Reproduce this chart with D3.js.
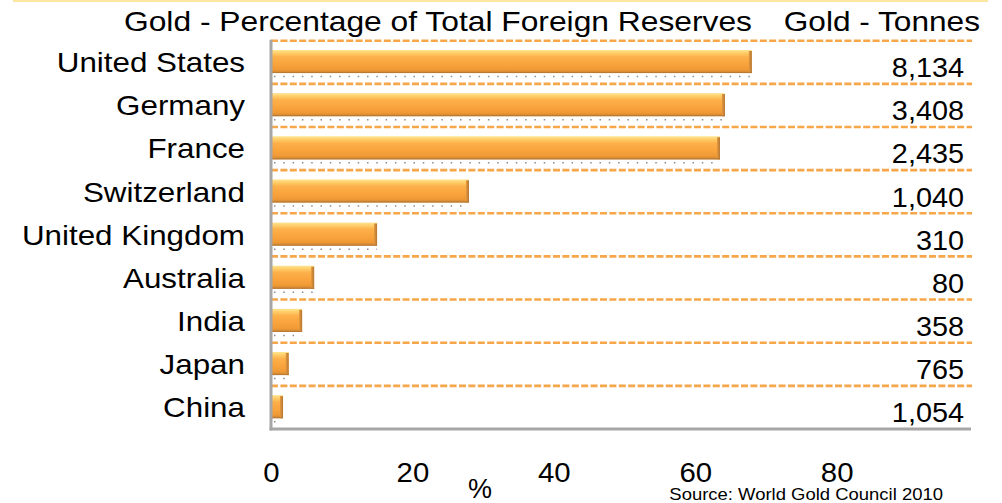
<!DOCTYPE html>
<html>
<head>
<meta charset="utf-8">
<script src="https://cdn.jsdelivr.net/npm/d3@7"></script>
<style>
  html, body { margin: 0; padding: 0; background: #fff; }
  svg { display: block; }
  text { font-family: "Liberation Sans", Arial, sans-serif; fill: #000; }
</style>
</head>
<body>
<svg id="chart" width="1002" height="503"></svg>
<script>
// ---- data ----
const countries = ["United States", "Germany", "France", "Switzerland", "United Kingdom", "Australia", "India", "Japan", "China"];
const goldPercent = [68.0, 64.2, 63.5, 28.0, 15.0, 6.1, 4.4, 2.5, 1.7];
const goldTonnes = ["8,134", "3,408", "2,435", "1,040", "310", "80", "358", "765", "1,054"];
const tickValues = [0, 20, 40, 60, 80];
const titleLeft = "Gold - Percentage of Total Foreign Reserves";
const titleRight = "Gold - Tonnes";
const axisLabel = "%";
const sourceNote = "Source: World Gold Council 2010";

// ---- layout ----
const svg = d3.select("#chart");
const plot = { left: 271, right: 971, top: 40.7, bottom: 429 };

const x = d3.scaleLinear().domain([0, 99]).range([plot.left, plot.right]);
const y = d3.scaleBand().domain(countries).range([plot.top, plot.bottom]).padding(0);

const defs = svg.append("defs");
const grad = defs.append("linearGradient").attr("id", "barGrad")
  .attr("x1", 0).attr("y1", 0).attr("x2", 0).attr("y2", 1);
[["0%", "#ffe493"], ["12%", "#ffd06c"], ["30%", "#fdb04a"], ["60%", "#f9a43d"], ["85%", "#f09a36"], ["100%", "#c98232"]]
  .forEach(([o, c]) => grad.append("stop").attr("offset", o).attr("stop-color", c));
const gradR = defs.append("linearGradient").attr("id", "endGrad")
  .attr("x1", 0).attr("y1", 0).attr("x2", 1).attr("y2", 0);
[["0%", "#e59a3f"], ["100%", "#b57632"]]
  .forEach(([o, c]) => gradR.append("stop").attr("offset", o).attr("stop-color", c));

function stretchedText(g, txt, tx, ty, size, sx, anchor) {
  return g.append("text")
    .attr("transform", `translate(${tx},${ty}) scale(${sx},1)`)
    .attr("text-anchor", anchor)
    .style("font-size", size + "px")
    .text(txt);
}

// top pale line
svg.append("line").attr("x1", 13).attr("x2", 988).attr("y1", 1).attr("y2", 1)
  .attr("stroke", "#fde6a2").attr("stroke-width", 2);

// titles
stretchedText(svg, titleLeft, 752, 30.5, 28, 1.135, "end");
stretchedText(svg, titleRight, 980, 30.5, 28, 1.13, "end");

// dashed row separators
svg.append("g").selectAll("line").data(countries).join("line")
  .attr("x1", plot.left).attr("x2", plot.right + 1)
  .attr("y1", d => y(d)).attr("y2", d => y(d))
  .attr("stroke", "#f8a64a").attr("stroke-width", 2.6)
  .attr("stroke-dasharray", "7,2.4");

const bw = y.bandwidth();
const barTop = d => y(d) + bw * 0.215;
const barH = bw * 0.535;

// dotted shadow lines under bars
svg.append("g").selectAll("line").data(countries).join("line")
  .attr("x1", plot.left + 3)
  .attr("x2", (d, i) => x(goldPercent[i]))
  .attr("y1", d => barTop(d) + barH + 3.5)
  .attr("y2", d => barTop(d) + barH + 3.5)
  .attr("stroke", "#8c8c8c").attr("stroke-width", 1.5)
  .attr("stroke-dasharray", "1.5,7.8");

// bars
const bars = svg.append("g").selectAll("g").data(countries).join("g");
bars.append("rect")
  .attr("x", plot.left + 1)
  .attr("y", d => barTop(d))
  .attr("width", (d, i) => x(goldPercent[i]) - plot.left - 1)
  .attr("height", barH)
  .attr("fill", "url(#barGrad)");
bars.append("rect")
  .attr("x", (d, i) => x(goldPercent[i]) - 3)
  .attr("y", d => barTop(d) + 1)
  .attr("width", 3)
  .attr("height", barH - 1)
  .attr("fill", "url(#endGrad)");
bars.append("line")
  .attr("x1", plot.left + 1)
  .attr("x2", (d, i) => x(goldPercent[i]))
  .attr("y1", d => barTop(d) + barH - 0.5)
  .attr("y2", d => barTop(d) + barH - 0.5)
  .attr("stroke", "#b87a36").attr("stroke-width", 1);

// axes lines
svg.append("line").attr("x1", plot.left).attr("x2", plot.left)
  .attr("y1", plot.top - 1).attr("y2", plot.bottom + 1.5)
  .attr("stroke", "#a6a6a6").attr("stroke-width", 3);
svg.append("line").attr("x1", plot.left - 1.5).attr("x2", plot.right)
  .attr("y1", plot.bottom).attr("y2", plot.bottom)
  .attr("stroke", "#a6a6a6").attr("stroke-width", 3);

// category labels
const catG = svg.append("g");
countries.forEach(c => stretchedText(catG, c, 245, y(c) + 31.5, 28, 1.12, "end"));

// tonnes values
const valG = svg.append("g");
countries.forEach((c, i) => stretchedText(valG, goldTonnes[i], 964, y(c) + 36.5, 28, 1.03, "end"));

// x axis ticks
const xAxis = d3.axisBottom(x).tickValues(tickValues).tickSize(0).tickPadding(0).tickFormat(d3.format("d"));
const axG = svg.append("g").attr("transform", `translate(0,${plot.bottom})`).call(xAxis);
axG.select(".domain").remove();
axG.selectAll(".tick text")
  .attr("y", 0).attr("dy", 0)
  .attr("transform", "translate(0,52.5) scale(1.05,1)")
  .style("font-size", "28px")
  .style("font-family", "'Liberation Sans', Arial, sans-serif")
  .attr("fill", "#000");

// axis label and source
stretchedText(svg, axisLabel, 480, 497.5, 27, 1.0, "middle");
stretchedText(svg, sourceNote, 943, 500, 16.5, 1.12, "end");
</script>
</body>
</html>
